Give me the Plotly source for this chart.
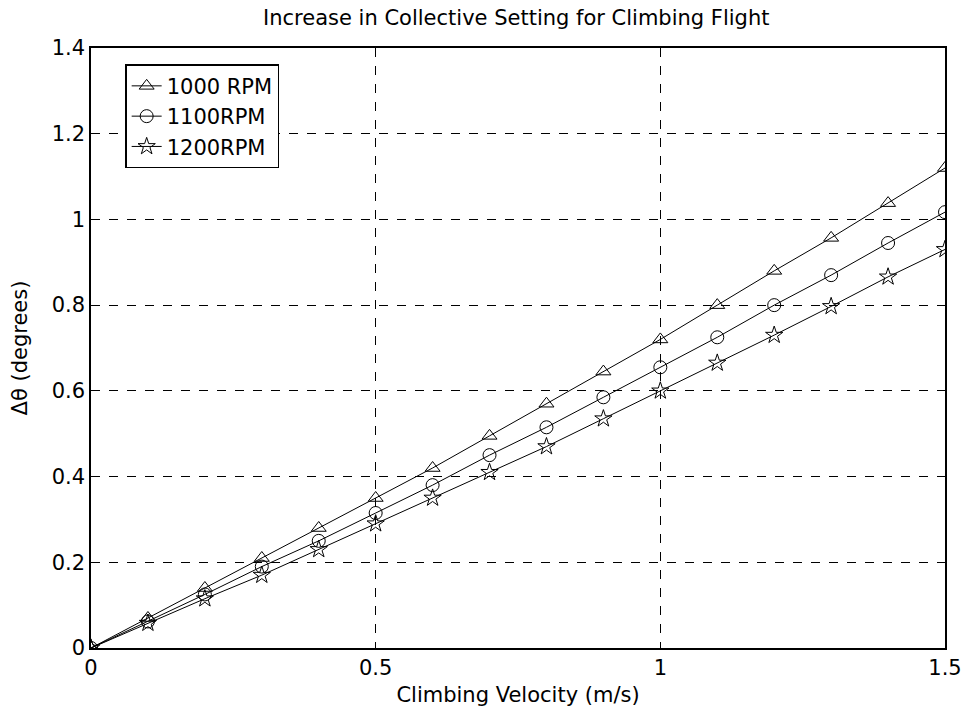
import plotly.graph_objects as go

velocity = [0.0, 0.1, 0.2, 0.3, 0.4, 0.5, 0.6, 0.7, 0.8, 0.9, 1.0, 1.1, 1.2, 1.3, 1.4, 1.5]
rpm1000 = [0.0, 0.07, 0.14, 0.21, 0.28, 0.35, 0.42, 0.495, 0.57, 0.645, 0.72, 0.80, 0.88, 0.957, 1.038, 1.12]
rpm1100 = [0.0, 0.062, 0.125, 0.19, 0.25, 0.315, 0.38, 0.45, 0.515, 0.585, 0.655, 0.725, 0.80, 0.87, 0.945, 1.017]
rpm1200 = [0.0, 0.058, 0.115, 0.17, 0.23, 0.29, 0.35, 0.41, 0.47, 0.535, 0.60, 0.665, 0.73, 0.797, 0.866, 0.93]

series = [
    ("1000 RPM", rpm1000, "triangle-up-open"),
    ("1100RPM", rpm1100, "circle-open"),
    ("1200RPM", rpm1200, "star-open"),
]

FONT = "DejaVu Sans, Verdana, sans-serif"
FS = 21

fig = go.Figure()
for name, vals, sym in series:
    fig.add_trace(go.Scatter(
        x=velocity, y=vals, name=name, mode="lines+markers",
        line=dict(color="black", width=1),
        marker=dict(symbol=sym, size=13, color="black", line=dict(width=1, color="black")),
    ))

axis_common = dict(
    showgrid=True, gridcolor="black", griddash="dash", gridwidth=1,
    showline=True, linecolor="black", linewidth=1.5, mirror="ticks",
    ticks="inside", ticklen=6, tickcolor="black", automargin=False,
    zeroline=False, tickfont=dict(size=FS, color="black", family=FONT),
)

fig.update_layout(
    width=965, height=718,
    margin=dict(l=91, r=20, t=48, b=70),
    paper_bgcolor="white", plot_bgcolor="white",
    font=dict(family=FONT, color="black", size=FS),
    title=dict(text="Increase in Collective Setting for Climbing Flight",
               x=0.535, xanchor="center", y=0.975, yanchor="middle",
               font=dict(size=FS)),
    xaxis=dict(range=[0, 1.5], tickvals=[0, 0.5, 1, 1.5],
               title=dict(text="Climbing Velocity (m/s)", standoff=8, font=dict(size=FS)),
               **axis_common),
    yaxis=dict(range=[0, 1.4], tickvals=[0, 0.2, 0.4, 0.6, 0.8, 1.0, 1.2, 1.4],
               title=dict(text="Δθ (degrees)", standoff=18, font=dict(size=FS)),
               **axis_common),
    legend=dict(x=0.04, y=0.973, xanchor="left", yanchor="top",
                bgcolor="white", bordercolor="black", borderwidth=1.5,
                font=dict(size=FS), tracegroupgap=0),
    showlegend=True,
)

fig.write_html("out.html")
